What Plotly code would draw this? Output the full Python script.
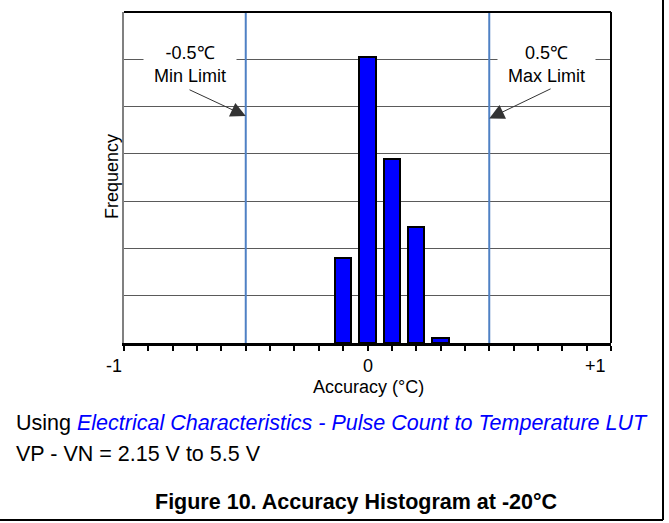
import numpy as np
import plotly.graph_objects as go

# ---- data ----
accuracy_bins = [-0.1, 0.0, 0.1, 0.2, 0.3]
frequency = [1.8, 6.05, 3.9, 2.45, 0.1]
limit_values = [-0.5, 0.5]
limit_labels = ["-0.5℃<br>Min Limit", "0.5℃<br>Max Limit"]
x_tick_values = [-1, 0, 1]
x_tick_labels = ["-1", "0", "+1"]
minor_tick_values = [round(v, 1) for v in np.arange(-1.0, 1.0001, 0.1)]

FONT = "Liberation Sans, Arial, sans-serif"
W, H = 669, 523
L, R, T, B = 124, 58, 12, 180
PW, PH = W - L - R, H - T - B


def px(xp):
    return (xp - L) / PW


def py(yp):
    return (H - B - yp) / PH


fig = go.Figure()
fig.add_trace(go.Bar(
    x=accuracy_bins, y=frequency, width=0.068,
    marker=dict(color="#0000ff", line=dict(color="black", width=2)),
    showlegend=False,
))

# limit lines
for lv in limit_values:
    fig.add_shape(type="line", xref="x", yref="y", x0=lv, x1=lv, y0=0, y1=7,
                  line=dict(color="#4f81c4", width=2), layer="above")

# frame: top and right borders
fig.add_shape(type="line", xref="paper", yref="paper", x0=0, x1=1, y0=1, y1=1,
              line=dict(color="black", width=2))
fig.add_shape(type="line", xref="paper", yref="paper", x0=1, x1=1, y0=0, y1=1,
              line=dict(color="black", width=2))

# outer document frame (right and bottom)
fig.add_shape(type="line", xref="paper", yref="paper", x0=px(663), x1=px(663),
              y0=py(520), y1=py(0), line=dict(color="black", width=2))
fig.add_shape(type="line", xref="paper", yref="paper", x0=px(0), x1=px(663),
              y0=py(520), y1=py(520), line=dict(color="black", width=2))

annotations = []
# limit labels (white boxes)
label_pos = [(-0.729, 5.90), (0.737, 5.90)]
for (lx, ly), txt in zip(label_pos, limit_labels):
    annotations.append(dict(x=lx, y=ly, xref="x", yref="y", text=txt,
                            showarrow=False, bgcolor="white", borderpad=10,
                            font=dict(family=FONT, size=18, color="black"),
                            align="center"))
# arrows
arrow_tails = [(-0.737, 5.37), (0.758, 5.39)]
arrow_heads_y = [4.8, 4.75]
for lv, (tx, ty), hy in zip(limit_values, arrow_tails, arrow_heads_y):
    annotations.append(dict(x=lv, y=hy, xref="x", yref="y", ax=tx, ay=ty,
                            axref="x", ayref="y", text="", showarrow=True,
                            arrowhead=2, arrowsize=3, arrowwidth=1,
                            arrowcolor="#333333", standoff=0))
# x tick labels
tick_shift = [-10, 0, -16]
for tv, tt, sh in zip(x_tick_values, x_tick_labels, tick_shift):
    annotations.append(dict(x=tv, y=py(366), xref="x", yref="paper", text=tt,
                            showarrow=False, xshift=sh, yanchor="middle",
                            font=dict(family=FONT, size=18, color="black")))
# axis titles
annotations.append(dict(x=px(368), y=py(387), xref="paper", yref="paper",
                        text="Accuracy (°C)", showarrow=False, yanchor="middle",
                        font=dict(family=FONT, size=18, color="black")))
annotations.append(dict(x=px(112), y=py(177), xref="paper", yref="paper",
                        text="Frequency", showarrow=False, textangle=-90,
                        xanchor="center", yanchor="middle",
                        font=dict(family=FONT, size=18, color="black")))
# notes below chart
annotations.append(dict(x=px(14), y=py(423), xref="paper", yref="paper",
                        xanchor="left", yanchor="middle", showarrow=False,
                        text="Using <i><span style='color:#0000ff'>Electrical Characteristics - Pulse Count to Temperature LUT</span></i>",
                        font=dict(family=FONT, size=21.5, color="black")))
annotations.append(dict(x=px(14), y=py(454), xref="paper", yref="paper",
                        xanchor="left", yanchor="middle", showarrow=False,
                        text="VP - VN = 2.15 V to 5.5 V",
                        font=dict(family=FONT, size=21.5, color="black")))
annotations.append(dict(x=px(356), y=py(502), xref="paper", yref="paper",
                        xanchor="center", yanchor="middle", showarrow=False,
                        text="<b>Figure 10. Accuracy Histogram at -20°C</b>",
                        font=dict(family=FONT, size=21.5, color="black")))

fig.update_layout(
    width=W, height=H,
    margin=dict(l=L, r=R, t=T, b=B, pad=0),
    paper_bgcolor="white", plot_bgcolor="white",
    font=dict(family=FONT, size=18, color="black"),
    bargap=0,
    annotations=annotations,
    xaxis=dict(range=[-1, 1], tickmode="array", tickvals=minor_tick_values,
               showticklabels=False, ticks="outside", ticklen=5, tickwidth=2,
               tickcolor="black", showgrid=False, zeroline=False,
               showline=True, linecolor="black", linewidth=3, fixedrange=True),
    yaxis=dict(range=[0, 7], dtick=1, tick0=0, showticklabels=False, ticks="",
               showgrid=True, gridcolor="#5a5a5a", gridwidth=1, zeroline=False,
               showline=True, linecolor="#808080", linewidth=2, fixedrange=True),
)

fig.write_html("out.html", config={"displayModeBar": False},
               post_script="document.body.style.margin='0';document.body.style.overflow='hidden';")
